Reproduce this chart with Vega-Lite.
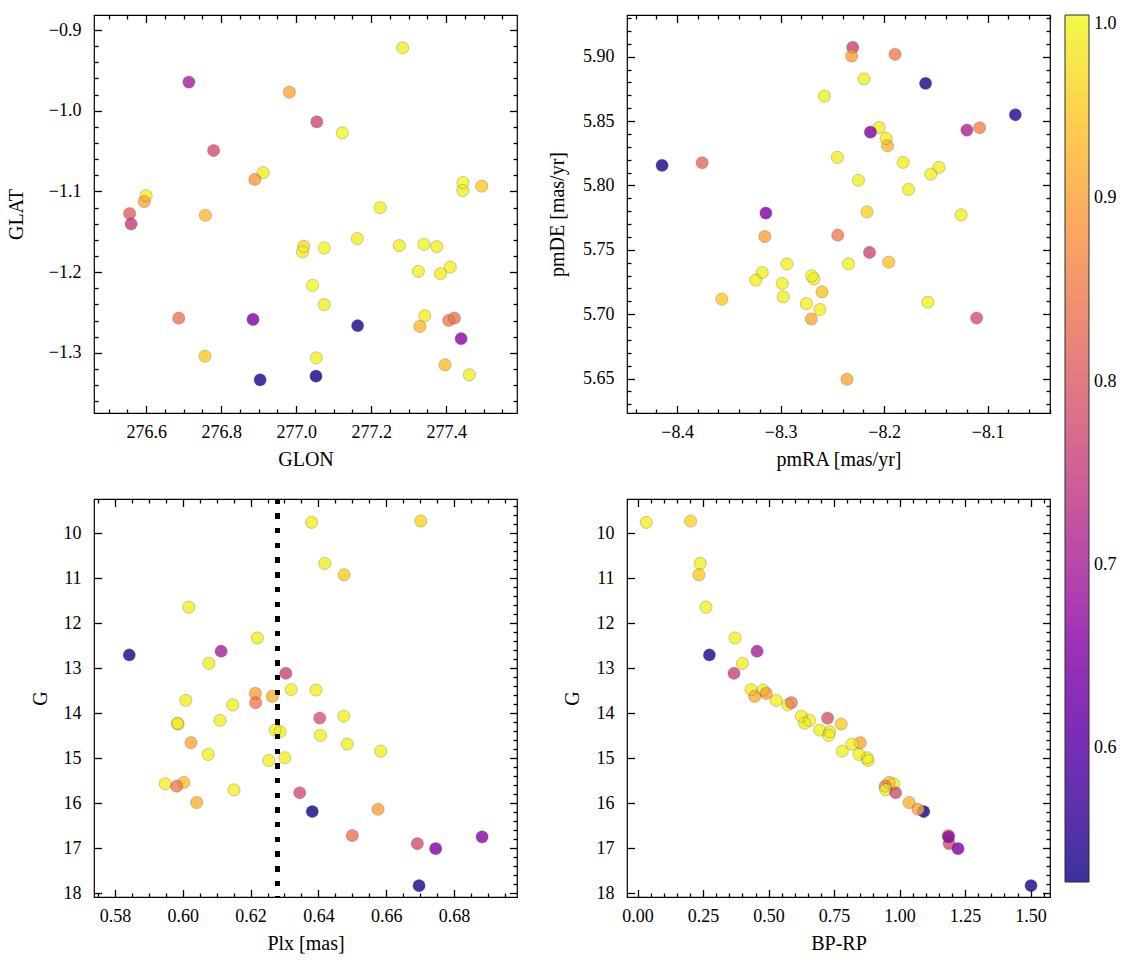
{
  "$schema": "https://vega.github.io/schema/vega-lite/v6.json",
  "padding": {"left": 5, "top": 13, "right": 5, "bottom": 5},
  "background": "white",
  "datasets": {
    "pos": [
      {"GLON": 277.284, "GLAT": -0.922, "prob": 0.99},
      {"GLON": 276.714, "GLAT": -0.9645, "prob": 0.70},
      {"GLON": 276.982, "GLAT": -0.977, "prob": 0.91},
      {"GLON": 277.055, "GLAT": -1.0138, "prob": 0.77},
      {"GLON": 277.123, "GLAT": -1.0274, "prob": 1.0},
      {"GLON": 276.780, "GLAT": -1.0493, "prob": 0.78},
      {"GLON": 276.912, "GLAT": -1.0766, "prob": 0.99},
      {"GLON": 276.890, "GLAT": -1.0852, "prob": 0.89},
      {"GLON": 277.445, "GLAT": -1.089, "prob": 1.0},
      {"GLON": 277.4445, "GLAT": -1.0989, "prob": 0.99},
      {"GLON": 277.495, "GLAT": -1.0935, "prob": 0.95},
      {"GLON": 276.600, "GLAT": -1.1051, "prob": 0.99},
      {"GLON": 276.595, "GLAT": -1.1125, "prob": 0.91},
      {"GLON": 276.556, "GLAT": -1.1274, "prob": 0.81},
      {"GLON": 276.758, "GLAT": -1.1295, "prob": 0.93},
      {"GLON": 277.224, "GLAT": -1.120, "prob": 0.99},
      {"GLON": 276.560, "GLAT": -1.1403, "prob": 0.75},
      {"GLON": 277.020, "GLAT": -1.168, "prob": 0.97},
      {"GLON": 277.017, "GLAT": -1.175, "prob": 0.99},
      {"GLON": 277.075, "GLAT": -1.170, "prob": 1.0},
      {"GLON": 277.163, "GLAT": -1.1584, "prob": 0.99},
      {"GLON": 277.275, "GLAT": -1.1671, "prob": 0.99},
      {"GLON": 277.341, "GLAT": -1.1655, "prob": 1.0},
      {"GLON": 277.375, "GLAT": -1.1684, "prob": 0.99},
      {"GLON": 277.326, "GLAT": -1.199, "prob": 0.99},
      {"GLON": 277.385, "GLAT": -1.2019, "prob": 0.99},
      {"GLON": 277.411, "GLAT": -1.1937, "prob": 0.99},
      {"GLON": 277.044, "GLAT": -1.2164, "prob": 1.0},
      {"GLON": 277.075, "GLAT": -1.2403, "prob": 0.99},
      {"GLON": 276.687, "GLAT": -1.257, "prob": 0.84},
      {"GLON": 276.885, "GLAT": -1.2586, "prob": 0.65},
      {"GLON": 277.164, "GLAT": -1.2664, "prob": 0.54},
      {"GLON": 277.343, "GLAT": -1.254, "prob": 0.99},
      {"GLON": 277.330, "GLAT": -1.2672, "prob": 0.93},
      {"GLON": 277.407, "GLAT": -1.2598, "prob": 0.85},
      {"GLON": 277.422, "GLAT": -1.257, "prob": 0.84},
      {"GLON": 277.440, "GLAT": -1.2825, "prob": 0.66},
      {"GLON": 276.757, "GLAT": -1.3041, "prob": 0.95},
      {"GLON": 277.054, "GLAT": -1.3061, "prob": 0.99},
      {"GLON": 276.904, "GLAT": -1.3334, "prob": 0.54},
      {"GLON": 277.053, "GLAT": -1.3289, "prob": 0.53},
      {"GLON": 277.397, "GLAT": -1.3148, "prob": 0.93},
      {"GLON": 277.462, "GLAT": -1.3272, "prob": 0.99}
    ],
    "pm": [
      {"pmRA": -8.2303, "pmDE": 5.9073, "prob": 0.76},
      {"pmRA": -8.2313, "pmDE": 5.9005, "prob": 0.90},
      {"pmRA": -8.1894, "pmDE": 5.9019, "prob": 0.85},
      {"pmRA": -8.2194, "pmDE": 5.8827, "prob": 0.99},
      {"pmRA": -8.1599, "pmDE": 5.8793, "prob": 0.54},
      {"pmRA": -8.2577, "pmDE": 5.8694, "prob": 0.99},
      {"pmRA": -8.0732, "pmDE": 5.8549, "prob": 0.55},
      {"pmRA": -8.2048, "pmDE": 5.8451, "prob": 0.99},
      {"pmRA": -8.2132, "pmDE": 5.8414, "prob": 0.65},
      {"pmRA": -8.1200, "pmDE": 5.8430, "prob": 0.71},
      {"pmRA": -8.1077, "pmDE": 5.8448, "prob": 0.86},
      {"pmRA": -8.1981, "pmDE": 5.8365, "prob": 0.99},
      {"pmRA": -8.1967, "pmDE": 5.8308, "prob": 0.93},
      {"pmRA": -8.4145, "pmDE": 5.8156, "prob": 0.54},
      {"pmRA": -8.3758, "pmDE": 5.8176, "prob": 0.82},
      {"pmRA": -8.2451, "pmDE": 5.8218, "prob": 0.99},
      {"pmRA": -8.1816, "pmDE": 5.8179, "prob": 0.99},
      {"pmRA": -8.1470, "pmDE": 5.8140, "prob": 0.99},
      {"pmRA": -8.1548, "pmDE": 5.8088, "prob": 0.99},
      {"pmRA": -8.2248, "pmDE": 5.8039, "prob": 0.99},
      {"pmRA": -8.1764, "pmDE": 5.7969, "prob": 0.99},
      {"pmRA": -8.3142, "pmDE": 5.7785, "prob": 0.65},
      {"pmRA": -8.2165, "pmDE": 5.7795, "prob": 0.96},
      {"pmRA": -8.1257, "pmDE": 5.7771, "prob": 0.99},
      {"pmRA": -8.3152, "pmDE": 5.7603, "prob": 0.90},
      {"pmRA": -8.2448, "pmDE": 5.7613, "prob": 0.85},
      {"pmRA": -8.2141, "pmDE": 5.7479, "prob": 0.77},
      {"pmRA": -8.1955, "pmDE": 5.7404, "prob": 0.94},
      {"pmRA": -8.2345, "pmDE": 5.7390, "prob": 0.99},
      {"pmRA": -8.2939, "pmDE": 5.7390, "prob": 0.99},
      {"pmRA": -8.3177, "pmDE": 5.7323, "prob": 0.99},
      {"pmRA": -8.3239, "pmDE": 5.7264, "prob": 0.99},
      {"pmRA": -8.2984, "pmDE": 5.7238, "prob": 0.99},
      {"pmRA": -8.2700, "pmDE": 5.7297, "prob": 1.0},
      {"pmRA": -8.2678, "pmDE": 5.7274, "prob": 0.99},
      {"pmRA": -8.2600, "pmDE": 5.7173, "prob": 0.94},
      {"pmRA": -8.3568, "pmDE": 5.7116, "prob": 0.95},
      {"pmRA": -8.2974, "pmDE": 5.7134, "prob": 0.99},
      {"pmRA": -8.2751, "pmDE": 5.7082, "prob": 0.99},
      {"pmRA": -8.2620, "pmDE": 5.7036, "prob": 0.99},
      {"pmRA": -8.2703, "pmDE": 5.6963, "prob": 0.91},
      {"pmRA": -8.1577, "pmDE": 5.7093, "prob": 0.99},
      {"pmRA": -8.1106, "pmDE": 5.6970, "prob": 0.78},
      {"pmRA": -8.2358, "pmDE": 5.6494, "prob": 0.91}
    ],
    "cmd": [
      {"Plx": 0.6380, "G": 9.755, "BPRP": 0.033, "prob": 0.99},
      {"Plx": 0.6702, "G": 9.726, "BPRP": 0.202, "prob": 0.96},
      {"Plx": 0.6419, "G": 10.668, "BPRP": 0.239, "prob": 0.99},
      {"Plx": 0.6476, "G": 10.922, "BPRP": 0.234, "prob": 0.95},
      {"Plx": 0.6018, "G": 11.641, "BPRP": 0.261, "prob": 0.99},
      {"Plx": 0.6220, "G": 12.325, "BPRP": 0.372, "prob": 0.99},
      {"Plx": 0.5842, "G": 12.704, "BPRP": 0.274, "prob": 0.54},
      {"Plx": 0.6113, "G": 12.621, "BPRP": 0.456, "prob": 0.70},
      {"Plx": 0.6077, "G": 12.889, "BPRP": 0.400, "prob": 0.99},
      {"Plx": 0.6304, "G": 13.111, "BPRP": 0.368, "prob": 0.76},
      {"Plx": 0.6320, "G": 13.474, "BPRP": 0.433, "prob": 0.99},
      {"Plx": 0.6393, "G": 13.483, "BPRP": 0.479, "prob": 0.99},
      {"Plx": 0.6214, "G": 13.557, "BPRP": 0.491, "prob": 0.90},
      {"Plx": 0.6264, "G": 13.624, "BPRP": 0.447, "prob": 0.92},
      {"Plx": 0.6009, "G": 13.713, "BPRP": 0.529, "prob": 0.99},
      {"Plx": 0.6147, "G": 13.813, "BPRP": 0.573, "prob": 0.99},
      {"Plx": 0.6215, "G": 13.764, "BPRP": 0.587, "prob": 0.85},
      {"Plx": 0.6404, "G": 14.107, "BPRP": 0.725, "prob": 0.79},
      {"Plx": 0.6475, "G": 14.062, "BPRP": 0.625, "prob": 0.99},
      {"Plx": 0.5986, "G": 14.240, "BPRP": 0.777, "prob": 0.95},
      {"Plx": 0.5984, "G": 14.218, "BPRP": 0.637, "prob": 0.99},
      {"Plx": 0.6110, "G": 14.158, "BPRP": 0.656, "prob": 0.99},
      {"Plx": 0.6024, "G": 14.655, "BPRP": 0.850, "prob": 0.91},
      {"Plx": 0.6075, "G": 14.915, "BPRP": 0.845, "prob": 0.99},
      {"Plx": 0.6272, "G": 14.374, "BPRP": 0.695, "prob": 0.99},
      {"Plx": 0.6287, "G": 14.410, "BPRP": 0.733, "prob": 0.99},
      {"Plx": 0.6406, "G": 14.492, "BPRP": 0.729, "prob": 0.99},
      {"Plx": 0.6485, "G": 14.686, "BPRP": 0.818, "prob": 0.99},
      {"Plx": 0.6584, "G": 14.842, "BPRP": 0.781, "prob": 0.99},
      {"Plx": 0.6254, "G": 15.049, "BPRP": 0.879, "prob": 0.99},
      {"Plx": 0.6301, "G": 14.989, "BPRP": 0.876, "prob": 0.99},
      {"Plx": 0.5948, "G": 15.568, "BPRP": 0.977, "prob": 0.99},
      {"Plx": 0.6003, "G": 15.539, "BPRP": 0.960, "prob": 0.94},
      {"Plx": 0.5982, "G": 15.621, "BPRP": 0.945, "prob": 0.85},
      {"Plx": 0.6151, "G": 15.702, "BPRP": 0.947, "prob": 0.99},
      {"Plx": 0.6041, "G": 15.984, "BPRP": 1.036, "prob": 0.92},
      {"Plx": 0.6345, "G": 15.768, "BPRP": 0.985, "prob": 0.78},
      {"Plx": 0.6382, "G": 16.185, "BPRP": 1.092, "prob": 0.53},
      {"Plx": 0.6576, "G": 16.134, "BPRP": 1.070, "prob": 0.90},
      {"Plx": 0.6500, "G": 16.719, "BPRP": 1.186, "prob": 0.84},
      {"Plx": 0.6692, "G": 16.898, "BPRP": 1.189, "prob": 0.78},
      {"Plx": 0.6746, "G": 17.010, "BPRP": 1.223, "prob": 0.65},
      {"Plx": 0.6883, "G": 16.748, "BPRP": 1.187, "prob": 0.66},
      {"Plx": 0.6697, "G": 17.833, "BPRP": 1.5015, "prob": 0.54}
    ]
  },
  "columns": 2,
  "spacing": {"row": 86, "column": 110},
  "bounds": "flush",
  "concat": [
    {
      "width": 423, "height": 398,
      "data": {"name": "pos"},
      "layer": [
        {
          "mark": {"type": "point", "filled": true, "size": 150, "opacity": 0.82, "strokeWidth": 0},
          "encoding": {
            "x": {"field": "GLON", "type": "quantitative", "scale": {"domain": [276.461, 277.589], "nice": false, "zero": false},
              "axis": {"orient": "bottom", "title": "GLON", "format": ".1f", "labelOverlap": false, "tickSize": 0, "tickColor": "black", "tickWidth": 1.3,
                "values": [276.5, 276.55, 276.6, 276.65, 276.7, 276.75, 276.8, 276.85, 276.9, 276.95, 277.0, 277.05, 277.1, 277.15, 277.2, 277.25, 277.3, 277.35, 277.4, 277.45, 277.5, 277.55],
                "labelExpr": "abs(datum.value/0.2-round(datum.value/0.2))<0.001 ? datum.label : ''",
                "labelFontSize": {"condition": {"test": "abs(datum.value/0.2-round(datum.value/0.2))<0.001", "value": 18}, "value": 0},
                "labelPadding": 10, "titleY": 52, "titleBaseline": "alphabetic",
                "encoding": {"ticks": {"y2": {"value": {"expr": "abs(datum.value/0.2-round(datum.value/0.2))<0.001 ? -7.5 : -4"}}}}}},
            "y": {"field": "GLAT", "type": "quantitative", "scale": {"domain": [-1.3745, -0.8814], "nice": false, "zero": false},
              "axis": {"orient": "left", "title": "GLAT", "format": ".1f", "labelOverlap": false, "tickSize": 0, "tickColor": "black", "tickWidth": 1.3,
                "values": [-0.88, -0.9, -0.92, -0.94, -0.96, -0.98, -1.0, -1.02, -1.04, -1.06, -1.08, -1.1, -1.12, -1.14, -1.16, -1.18, -1.2, -1.22, -1.24, -1.26, -1.28, -1.3, -1.32, -1.34, -1.36],
                "labelExpr": "abs(datum.value/0.1-round(datum.value/0.1))<0.001 ? datum.label : ''",
                "labelFontSize": {"condition": {"test": "abs(datum.value/0.1-round(datum.value/0.1))<0.001", "value": 18}, "value": 0},
                "labelPadding": 13, "titleX": -78, "titleBaseline": "middle",
                "encoding": {"ticks": {"x2": {"value": {"expr": "abs(datum.value/0.1-round(datum.value/0.1))<0.001 ? 7.5 : 4"}}}}}},
            "color": {"field": "prob", "type": "quantitative", "scale": {"scheme": "plasma", "domain": [0.527, 1.0]},
              "legend": {"title": null, "orient": "right", "offset": 13, "direction": "vertical", "gradientLength": 867, "gradientThickness": 24, "values": [0.6, 0.7, 0.8, 0.9, 1.0], "format": ".1f", "labelOffset": 5, "gradientStrokeColor": "black", "gradientStrokeWidth": 1}}
          }
        },
        {
          "mark": {"type": "point", "filled": false, "size": 150, "color": "#4d4d4d", "strokeWidth": 0.5, "opacity": 0.55},
          "encoding": {
            "x": {"field": "GLON", "type": "quantitative", "scale": {"domain": [276.461, 277.589], "nice": false, "zero": false},
              "axis": {"orient": "top", "title": null, "labels": false, "tickSize": 0, "tickColor": "black", "tickWidth": 1.3,
                "values": [276.5, 276.55, 276.6, 276.65, 276.7, 276.75, 276.8, 276.85, 276.9, 276.95, 277.0, 277.05, 277.1, 277.15, 277.2, 277.25, 277.3, 277.35, 277.4, 277.45, 277.5, 277.55],
                "encoding": {"ticks": {"y2": {"value": {"expr": "abs(datum.value/0.2-round(datum.value/0.2))<0.001 ? 7.5 : 4"}}}}}},
            "y": {"field": "GLAT", "type": "quantitative", "scale": {"domain": [-1.3745, -0.8814], "nice": false, "zero": false},
              "axis": {"orient": "right", "title": null, "labels": false, "tickSize": 0, "tickColor": "black", "tickWidth": 1.3,
                "values": [-0.88, -0.9, -0.92, -0.94, -0.96, -0.98, -1.0, -1.02, -1.04, -1.06, -1.08, -1.1, -1.12, -1.14, -1.16, -1.18, -1.2, -1.22, -1.24, -1.26, -1.28, -1.3, -1.32, -1.34, -1.36],
                "encoding": {"ticks": {"x2": {"value": {"expr": "abs(datum.value/0.1-round(datum.value/0.1))<0.001 ? -7.5 : -4"}}}}}}
          }
        }
      ],
      "resolve": {"axis": {"x": "independent", "y": "independent"}}
    },
    {
      "width": 423, "height": 398,
      "data": {"name": "pm"},
      "layer": [
        {
          "mark": {"type": "point", "filled": true, "size": 150, "opacity": 0.82, "strokeWidth": 0},
          "encoding": {
            "x": {"field": "pmRA", "type": "quantitative", "scale": {"domain": [-8.4484, -8.0397], "nice": false, "zero": false},
              "axis": {"orient": "bottom", "title": "pmRA [mas/yr]", "format": ".1f", "labelOverlap": false, "tickSize": 0, "tickColor": "black", "tickWidth": 1.3,
                "values": [-8.44, -8.42, -8.4, -8.38, -8.36, -8.34, -8.32, -8.3, -8.28, -8.26, -8.24, -8.22, -8.2, -8.18, -8.16, -8.14, -8.12, -8.1, -8.08, -8.06, -8.04],
                "labelExpr": "abs(datum.value/0.1-round(datum.value/0.1))<0.001 ? datum.label : ''",
                "labelFontSize": {"condition": {"test": "abs(datum.value/0.1-round(datum.value/0.1))<0.001", "value": 18}, "value": 0},
                "labelPadding": 10, "titleY": 52, "titleBaseline": "alphabetic",
                "encoding": {"ticks": {"y2": {"value": {"expr": "abs(datum.value/0.1-round(datum.value/0.1))<0.001 ? -7.5 : -4"}}}}}},
            "y": {"field": "pmDE", "type": "quantitative", "scale": {"domain": [5.6232, 5.9324], "nice": false, "zero": false},
              "axis": {"orient": "left", "title": "pmDE [mas/yr]", "format": ".2f", "labelOverlap": false, "tickSize": 0, "tickColor": "black", "tickWidth": 1.3,
                "values": [5.63, 5.64, 5.65, 5.66, 5.67, 5.68, 5.69, 5.7, 5.71, 5.72, 5.73, 5.74, 5.75, 5.76, 5.77, 5.78, 5.79, 5.8, 5.81, 5.82, 5.83, 5.84, 5.85, 5.86, 5.87, 5.88, 5.89, 5.9, 5.91, 5.92, 5.93],
                "labelExpr": "abs(datum.value/0.05-round(datum.value/0.05))<0.001 ? datum.label : ''",
                "labelFontSize": {"condition": {"test": "abs(datum.value/0.05-round(datum.value/0.05))<0.001", "value": 18}, "value": 0},
                "labelPadding": 13, "titleX": -70, "titleBaseline": "middle",
                "encoding": {"ticks": {"x2": {"value": {"expr": "abs(datum.value/0.05-round(datum.value/0.05))<0.001 ? 7.5 : 4"}}}}}},
            "color": {"field": "prob", "type": "quantitative", "scale": {"scheme": "plasma", "domain": [0.527, 1.0]},
              "legend": {"title": null, "orient": "right", "offset": 13, "direction": "vertical", "gradientLength": 867, "gradientThickness": 24, "values": [0.6, 0.7, 0.8, 0.9, 1.0], "format": ".1f", "labelOffset": 5, "gradientStrokeColor": "black", "gradientStrokeWidth": 1}}
          }
        },
        {
          "mark": {"type": "point", "filled": false, "size": 150, "color": "#4d4d4d", "strokeWidth": 0.5, "opacity": 0.55},
          "encoding": {
            "x": {"field": "pmRA", "type": "quantitative", "scale": {"domain": [-8.4484, -8.0397], "nice": false, "zero": false},
              "axis": {"orient": "top", "title": null, "labels": false, "tickSize": 0, "tickColor": "black", "tickWidth": 1.3,
                "values": [-8.44, -8.42, -8.4, -8.38, -8.36, -8.34, -8.32, -8.3, -8.28, -8.26, -8.24, -8.22, -8.2, -8.18, -8.16, -8.14, -8.12, -8.1, -8.08, -8.06, -8.04],
                "encoding": {"ticks": {"y2": {"value": {"expr": "abs(datum.value/0.1-round(datum.value/0.1))<0.001 ? 7.5 : 4"}}}}}},
            "y": {"field": "pmDE", "type": "quantitative", "scale": {"domain": [5.6232, 5.9324], "nice": false, "zero": false},
              "axis": {"orient": "right", "title": null, "labels": false, "tickSize": 0, "tickColor": "black", "tickWidth": 1.3,
                "values": [5.63, 5.64, 5.65, 5.66, 5.67, 5.68, 5.69, 5.7, 5.71, 5.72, 5.73, 5.74, 5.75, 5.76, 5.77, 5.78, 5.79, 5.8, 5.81, 5.82, 5.83, 5.84, 5.85, 5.86, 5.87, 5.88, 5.89, 5.9, 5.91, 5.92, 5.93],
                "encoding": {"ticks": {"x2": {"value": {"expr": "abs(datum.value/0.05-round(datum.value/0.05))<0.001 ? -7.5 : -4"}}}}}}
          }
        }
      ],
      "resolve": {"axis": {"x": "independent", "y": "independent"}}
    },
    {
      "width": 423, "height": 398,
      "data": {"name": "cmd"},
      "layer": [
        {
          "mark": {"type": "point", "filled": true, "size": 150, "opacity": 0.82, "strokeWidth": 0},
          "encoding": {
            "x": {"field": "Plx", "type": "quantitative", "scale": {"domain": [0.5738, 0.6986], "nice": false, "zero": false},
              "axis": {"orient": "bottom", "title": "Plx [mas]", "format": ".2f", "labelOverlap": false, "tickSize": 0, "tickColor": "black", "tickWidth": 1.3,
                "values": [0.575, 0.58, 0.585, 0.59, 0.595, 0.6, 0.605, 0.61, 0.615, 0.62, 0.625, 0.63, 0.635, 0.64, 0.645, 0.65, 0.655, 0.66, 0.665, 0.67, 0.675, 0.68, 0.685, 0.69, 0.695],
                "labelExpr": "abs(datum.value/0.02-round(datum.value/0.02))<0.001 ? datum.label : ''",
                "labelFontSize": {"condition": {"test": "abs(datum.value/0.02-round(datum.value/0.02))<0.001", "value": 18}, "value": 0},
                "labelPadding": 10, "titleY": 52, "titleBaseline": "alphabetic",
                "encoding": {"ticks": {"y2": {"value": {"expr": "abs(datum.value/0.02-round(datum.value/0.02))<0.001 ? -7.5 : -4"}}}}}},
            "y": {"field": "G", "type": "quantitative", "scale": {"domain": [9.236, 18.085], "reverse": true, "nice": false, "zero": false},
              "axis": {"orient": "left", "title": "G", "format": "d", "labelOverlap": false, "tickSize": 0, "tickColor": "black", "tickWidth": 1.3,
                "values": [10, 11, 12, 13, 14, 15, 16, 17, 18],
                "labelPadding": 13, "titleX": -54, "titleBaseline": "middle",
                "encoding": {"ticks": {"x2": {"value": 7.5}}}}},
            "color": {"field": "prob", "type": "quantitative", "scale": {"scheme": "plasma", "domain": [0.527, 1.0]},
              "legend": {"title": null, "orient": "right", "offset": 13, "direction": "vertical", "gradientLength": 867, "gradientThickness": 24, "values": [0.6, 0.7, 0.8, 0.9, 1.0], "format": ".1f", "labelOffset": 5, "gradientStrokeColor": "black", "gradientStrokeWidth": 1}}
          }
        },
        {
          "mark": {"type": "point", "filled": false, "size": 150, "color": "#4d4d4d", "strokeWidth": 0.5, "opacity": 0.55},
          "encoding": {
            "x": {"field": "Plx", "type": "quantitative", "scale": {"domain": [0.5738, 0.6986], "nice": false, "zero": false},
              "axis": {"orient": "top", "title": null, "labels": false, "tickSize": 0, "tickColor": "black", "tickWidth": 1.3,
                "values": [0.575, 0.58, 0.585, 0.59, 0.595, 0.6, 0.605, 0.61, 0.615, 0.62, 0.625, 0.63, 0.635, 0.64, 0.645, 0.65, 0.655, 0.66, 0.665, 0.67, 0.675, 0.68, 0.685, 0.69, 0.695],
                "encoding": {"ticks": {"y2": {"value": {"expr": "abs(datum.value/0.02-round(datum.value/0.02))<0.001 ? 7.5 : 4"}}}}}},
            "y": {"field": "G", "type": "quantitative", "scale": {"domain": [9.236, 18.085], "reverse": true, "nice": false, "zero": false},
              "axis": {"orient": "right", "title": null, "labels": false, "tickSize": 0, "tickColor": "black", "tickWidth": 1.3,
                "values": [9.4, 9.6, 9.8, 10, 10.2, 10.4, 10.6, 10.8, 11, 11.2, 11.4, 11.6, 11.8, 12, 12.2, 12.4, 12.6, 12.8, 13, 13.2, 13.4, 13.6, 13.8, 14, 14.2, 14.4, 14.6, 14.8, 15, 15.2, 15.4, 15.6, 15.8, 16, 16.2, 16.4, 16.6, 16.8, 17, 17.2, 17.4, 17.6, 17.8, 18],
                "encoding": {"ticks": {"x2": {"value": {"expr": "abs(datum.value-round(datum.value))<0.001 ? -7.5 : -4"}}}}}}
          }
        },
        {
          "mark": {"type": "rule", "color": "black", "strokeWidth": 4.5, "strokeDash": [4.7, 10]},
          "encoding": {"x": {"datum": 0.628, "type": "quantitative", "scale": {"domain": [0.5738, 0.6986], "nice": false, "zero": false}, "axis": null}}
        }
      ],
      "resolve": {"axis": {"x": "independent", "y": "independent"}}
    },
    {
      "width": 423, "height": 398,
      "data": {"name": "cmd"},
      "layer": [
        {
          "mark": {"type": "point", "filled": true, "size": 150, "opacity": 0.82, "strokeWidth": 0},
          "encoding": {
            "x": {"field": "BPRP", "type": "quantitative", "scale": {"domain": [-0.0405, 1.574], "nice": false, "zero": false},
              "axis": {"orient": "bottom", "title": "BP-RP", "format": ".2f", "labelOverlap": false, "tickSize": 0, "tickColor": "black", "tickWidth": 1.3,
                "values": [0, 0.05, 0.1, 0.15, 0.2, 0.25, 0.3, 0.35, 0.4, 0.45, 0.5, 0.55, 0.6, 0.65, 0.7, 0.75, 0.8, 0.85, 0.9, 0.95, 1.0, 1.05, 1.1, 1.15, 1.2, 1.25, 1.3, 1.35, 1.4, 1.45, 1.5, 1.55],
                "labelExpr": "abs(datum.value/0.25-round(datum.value/0.25))<0.001 ? datum.label : ''",
                "labelFontSize": {"condition": {"test": "abs(datum.value/0.25-round(datum.value/0.25))<0.001", "value": 18}, "value": 0},
                "labelPadding": 10, "titleY": 52, "titleBaseline": "alphabetic",
                "encoding": {"ticks": {"y2": {"value": {"expr": "abs(datum.value/0.25-round(datum.value/0.25))<0.001 ? -7.5 : -4"}}}}}},
            "y": {"field": "G", "type": "quantitative", "scale": {"domain": [9.236, 18.085], "reverse": true, "nice": false, "zero": false},
              "axis": {"orient": "left", "title": "G", "format": "d", "labelOverlap": false, "tickSize": 0, "tickColor": "black", "tickWidth": 1.3,
                "values": [10, 11, 12, 13, 14, 15, 16, 17, 18],
                "labelPadding": 13, "titleX": -55, "titleBaseline": "middle",
                "encoding": {"ticks": {"x2": {"value": 7.5}}}}},
            "color": {"field": "prob", "type": "quantitative", "scale": {"scheme": "plasma", "domain": [0.527, 1.0]},
              "legend": {"title": null, "orient": "right", "offset": 13, "direction": "vertical", "gradientLength": 867, "gradientThickness": 24, "values": [0.6, 0.7, 0.8, 0.9, 1.0], "format": ".1f", "labelOffset": 5, "gradientStrokeColor": "black", "gradientStrokeWidth": 1}}
          }
        },
        {
          "mark": {"type": "point", "filled": false, "size": 150, "color": "#4d4d4d", "strokeWidth": 0.5, "opacity": 0.55},
          "encoding": {
            "x": {"field": "BPRP", "type": "quantitative", "scale": {"domain": [-0.0405, 1.574], "nice": false, "zero": false},
              "axis": {"orient": "top", "title": null, "labels": false, "tickSize": 0, "tickColor": "black", "tickWidth": 1.3,
                "values": [0, 0.05, 0.1, 0.15, 0.2, 0.25, 0.3, 0.35, 0.4, 0.45, 0.5, 0.55, 0.6, 0.65, 0.7, 0.75, 0.8, 0.85, 0.9, 0.95, 1.0, 1.05, 1.1, 1.15, 1.2, 1.25, 1.3, 1.35, 1.4, 1.45, 1.5, 1.55],
                "encoding": {"ticks": {"y2": {"value": {"expr": "abs(datum.value/0.25-round(datum.value/0.25))<0.001 ? 7.5 : 4"}}}}}},
            "y": {"field": "G", "type": "quantitative", "scale": {"domain": [9.236, 18.085], "reverse": true, "nice": false, "zero": false},
              "axis": {"orient": "right", "title": null, "labels": false, "tickSize": 0, "tickColor": "black", "tickWidth": 1.3,
                "values": [9.4, 9.6, 9.8, 10, 10.2, 10.4, 10.6, 10.8, 11, 11.2, 11.4, 11.6, 11.8, 12, 12.2, 12.4, 12.6, 12.8, 13, 13.2, 13.4, 13.6, 13.8, 14, 14.2, 14.4, 14.6, 14.8, 15, 15.2, 15.4, 15.6, 15.8, 16, 16.2, 16.4, 16.6, 16.8, 17, 17.2, 17.4, 17.6, 17.8, 18],
                "encoding": {"ticks": {"x2": {"value": {"expr": "abs(datum.value-round(datum.value))<0.001 ? -7.5 : -4"}}}}}}
          }
        }
      ],
      "resolve": {"axis": {"x": "independent", "y": "independent"}}
    }
  ],
  "config": {
    "font": "Liberation Serif",
    "view": {"stroke": "black", "strokeWidth": 1.2},
    "axis": {"domain": false, "grid": false, "labelFont": "Liberation Serif", "labelFontSize": 18, "labelColor": "black", "titleFont": "Liberation Serif", "titleFontSize": 20, "titleFontWeight": "normal", "titleColor": "black"},
    "legend": {"gradientVerticalMaxLength": 1000, "labelFont": "Liberation Serif", "labelFontSize": 18, "labelColor": "black", "labelOverlap": false}
  }
}
